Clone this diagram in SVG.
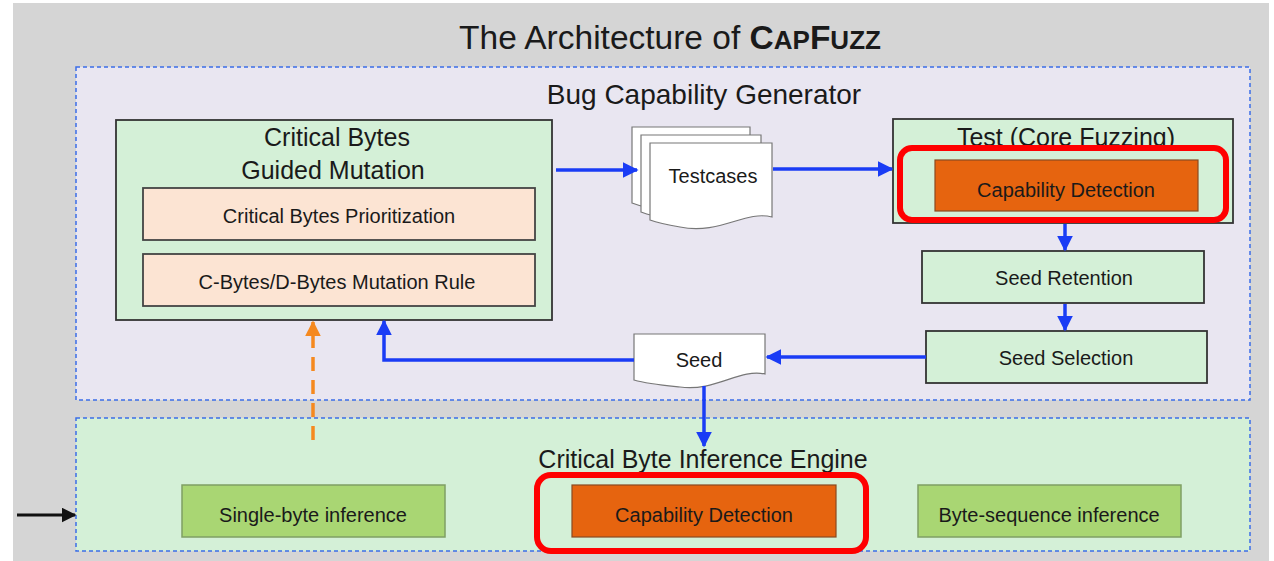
<svg xmlns="http://www.w3.org/2000/svg" width="1274" height="561" viewBox="0 0 1274 561">
<defs>
<style>
text{font-family:"Liberation Sans",Arial,sans-serif;fill:#1a1a1a;text-anchor:middle}
.cont{stroke:#3b6ee8;stroke-width:1.5;stroke-dasharray:4 3}
.gbox{fill:#d4f0d7;stroke:#333;stroke-width:1.8}
.peach{fill:#fce4d3;stroke:#444;stroke-width:1.8}
.orange{fill:#e6640f;stroke:#8a4a20;stroke-width:1.2}
.lg{fill:#a9d673;stroke:#7f9f64;stroke-width:1.5}
.red{fill:none;stroke:#ff0000;stroke-width:6}
.doc{fill:#fff;stroke:#777;stroke-width:1.2}
.blue{stroke:#1a3cf5;stroke-width:3.5;fill:none}
.t20{font-size:20px}
</style>
<marker id="ab" viewBox="0 0 10 10" refX="9" refY="5" markerWidth="4.5" markerHeight="4.5" orient="auto" markerUnits="strokeWidth"><path d="M0,0 L10,5 L0,10 z" fill="#1a3cf5"/></marker>
<marker id="ao" viewBox="0 0 10 10" refX="9" refY="5" markerWidth="4.5" markerHeight="4.5" orient="auto" markerUnits="strokeWidth"><path d="M0,0 L10,5 L0,10 z" fill="#f5891f"/></marker>
<marker id="ak" viewBox="0 0 10 10" refX="9" refY="5" markerWidth="5" markerHeight="5" orient="auto" markerUnits="strokeWidth"><path d="M0,0 L10,5 L0,10 z" fill="#111"/></marker>
</defs>
<rect width="1274" height="561" fill="#fff"/>
<rect x="13" y="3" width="1256" height="558" fill="#d5d5d5"/>
<text x="670" y="49" font-size="33.5">The Architecture of <tspan font-weight="bold">C<tspan font-size="26">AP</tspan>F<tspan font-size="26">UZZ</tspan></tspan></text>

<g id="bug-capability-generator">
<rect class="cont" x="76" y="67" width="1174" height="333" fill="#e9e6f1"/>
<text x="704" y="104" font-size="28">Bug Capability Generator</text>
</g>
<g id="critical-byte-inference-engine">
<rect class="cont" x="76" y="418" width="1174" height="133" fill="#d4f0d7"/>
<text x="703" y="468" font-size="25">Critical Byte Inference Engine</text>
</g>

<g id="guided-mutation">
<rect class="gbox" x="116" y="120" width="436" height="200"/>
<text x="337" y="146" font-size="25">Critical Bytes</text>
<text x="333" y="179" font-size="25">Guided Mutation</text>
</g>
<g id="prioritization">
<rect class="peach" x="143" y="188" width="392" height="52"/>
<text class="t20" x="339" y="223">Critical Bytes Prioritization</text>
</g>
<g id="mutation-rule">
<rect class="peach" x="143" y="254" width="392" height="52"/>
<text class="t20" x="337" y="289">C-Bytes/D-Bytes Mutation Rule</text>
</g>

<g id="testcases">
<path class="doc" d="M632,127 H750 V200 C725,193 700,218 660,210 C648,208 640,206 632,203 Z"/>
<path class="doc" d="M641,135 H761 V209 C735,202 710,227 670,219 C658,217 649,215 641,212 Z"/>
<path class="doc" d="M650,143 H772 V217 C745,210 720,235 680,227 C668,225 658,223 650,220 Z"/>
<text class="t20" x="713" y="183">Testcases</text>
</g>

<g id="test-core-fuzzing">
<rect class="gbox" x="893" y="119" width="340" height="104"/>
<text x="1066" y="146" font-size="25">Test (Core Fuzzing)</text>
</g>
<g id="capability-detection-1">
<rect class="orange" x="935" y="160" width="263" height="51"/>
<text class="t20" x="1066" y="197">Capability Detection</text>
<rect class="red" x="900" y="148" width="326" height="72" rx="12"/>
</g>

<g id="seed-retention">
<rect class="gbox" x="922" y="251" width="282" height="52"/>
<text class="t20" x="1064" y="285">Seed Retention</text>
</g>
<g id="seed-selection">
<rect class="gbox" x="926" y="331" width="281" height="52"/>
<text class="t20" x="1066" y="365">Seed Selection</text>
</g>

<g id="seed">
<path class="doc" d="M634,334 H765 V374 C740,368 715,392 680,387 C660,385 648,384 634,380 Z"/>
<text class="t20" x="699" y="367">Seed</text>
</g>

<g id="single-byte-inference">
<rect class="lg" x="182" y="485" width="263" height="52"/>
<text class="t20" x="313" y="522">Single-byte inference</text>
</g>
<g id="capability-detection-2">
<rect class="orange" x="572" y="485" width="264" height="52"/>
<text class="t20" x="704" y="522">Capability Detection</text>
<rect class="red" x="537" y="475" width="329" height="76" rx="14"/>
</g>
<g id="byte-sequence-inference">
<rect class="lg" x="918" y="485" width="263" height="52"/>
<text class="t20" x="1049" y="522">Byte-sequence inference</text>
</g>

<g id="connectors">
<line class="blue" x1="556" y1="170" x2="637" y2="170" marker-end="url(#ab)"/>
<line class="blue" x1="773" y1="169" x2="892" y2="169" marker-end="url(#ab)"/>
<line class="blue" x1="1065" y1="224" x2="1065" y2="250" marker-end="url(#ab)"/>
<line class="blue" x1="1065" y1="304" x2="1065" y2="330" marker-end="url(#ab)"/>
<line class="blue" x1="926" y1="357" x2="767" y2="357" marker-end="url(#ab)"/>
<polyline class="blue" points="634,360 384,360 384,321" marker-end="url(#ab)"/>
<line class="blue" x1="704" y1="386" x2="704" y2="446" marker-end="url(#ab)"/>
<line x1="313" y1="440" x2="313" y2="322" stroke="#f5891f" stroke-width="3.5" stroke-dasharray="14 9" marker-end="url(#ao)"/>
<line x1="17" y1="515" x2="75" y2="515" stroke="#111" stroke-width="3" marker-end="url(#ak)"/>
</g>
</svg>
